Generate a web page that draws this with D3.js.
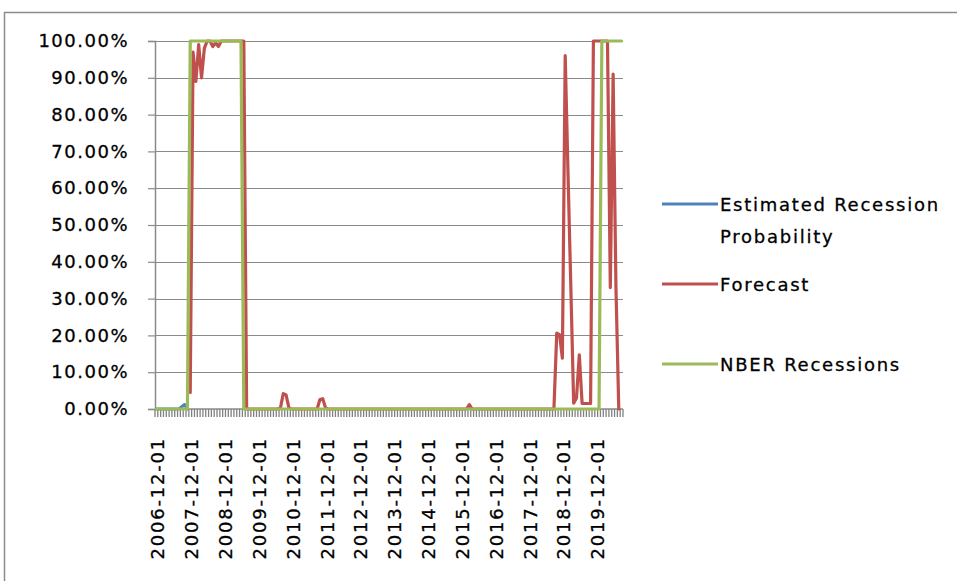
<!DOCTYPE html>
<html>
<head>
<meta charset="utf-8">
<script src="https://cdn.jsdelivr.net/npm/d3@7/dist/d3.min.js"></script>
<style>
  html, body { margin: 0; padding: 0; background: #fff; }
  svg { display: block; }
  text { font-family: "DejaVu Sans", Verdana, sans-serif; fill: #000; stroke: #000; stroke-width: 0.3px; }
</style>
</head>
<body>
<svg id="chart" width="957" height="581"></svg>
<script>
// Monthly categories, Dec 2006 through Sep 2020
const categories = d3.timeMonth.range(new Date(2006, 11, 1), new Date(2020, 9, 1))
  .map(d3.timeFormat("%Y-%m-%d"));

// Percent values, one row per 12 months starting at each December
const estimated = [
  0, 0, 0, 0, 0, 0, 0, 0, 0, 0.6, 1.2, 0
];

const forecast = [
  null, null, null, null, null, null, null, null, null, null, null, null,
  4.5, 97, 89, 99, 90, 98, 100, 100, 98.5, 99.5, 98.5, 100,
  100, 100, 100, 100, 100, 100, 100, 100, 0, 0, 0, 0,
  0, 0, 0, 0, 0, 0, 0, 0, 0.3, 4.2, 3.8, 0.3,
  0, 0, 0, 0, 0, 0, 0, 0, 0, 0, 2.6, 2.8,
  0.3, 0, 0, 0, 0, 0, 0, 0, 0, 0, 0, 0,
  0, 0, 0, 0, 0, 0, 0, 0, 0, 0, 0, 0,
  0, 0, 0, 0, 0, 0, 0, 0, 0, 0, 0, 0,
  0, 0, 0, 0, 0, 0, 0, 0, 0, 0, 0, 0,
  0, 0, 0, 1.2, 0, 0, 0, 0, 0, 0, 0, 0,
  0, 0, 0, 0, 0, 0, 0, 0, 0, 0, 0, 0,
  0, 0, 0, 0, 0, 0, 0, 0, 0, 0, 20.6, 20.2,
  13.8, 96, 64, 33, 1.6, 3, 14.7, 1.5, 1.5, 1.5, 1.5, 100,
  100, 100, 100, 100, 100, 33, 91, 33, 0, null
];

const nber = [
  0, 0, 0, 0, 0, 0, 0, 0, 0, 0, 0, 0,
  100, 100, 100, 100, 100, 100, 100, 100, 100, 100, 100, 100,
  100, 100, 100, 100, 100, 100, 100, 0, 0, 0, 0, 0,
  0, 0, 0, 0, 0, 0, 0, 0, 0, 0, 0, 0,
  0, 0, 0, 0, 0, 0, 0, 0, 0, 0, 0, 0,
  0, 0, 0, 0, 0, 0, 0, 0, 0, 0, 0, 0,
  0, 0, 0, 0, 0, 0, 0, 0, 0, 0, 0, 0,
  0, 0, 0, 0, 0, 0, 0, 0, 0, 0, 0, 0,
  0, 0, 0, 0, 0, 0, 0, 0, 0, 0, 0, 0,
  0, 0, 0, 0, 0, 0, 0, 0, 0, 0, 0, 0,
  0, 0, 0, 0, 0, 0, 0, 0, 0, 0, 0, 0,
  0, 0, 0, 0, 0, 0, 0, 0, 0, 0, 0, 0,
  0, 0, 0, 0, 0, 0, 0, 0, 0, 0, 0, 0,
  0, 0, 100, 100, 100, 100, 100, 100, 100, 100
];

const yTicks = [0, 10, 20, 30, 40, 50, 60, 70, 80, 90, 100];
const seriesNames = ["Estimated Recession Probability", "Forecast", "NBER Recessions"];
const seriesColors = ["#4F81BD", "#C0504D", "#9BBB59"];

const svg = d3.select("#chart");
const plot = { left: 155, right: 623, top: 41, bottom: 409 };

const x = d3.scaleBand().domain(categories).range([plot.left, plot.right]).padding(0);
const y = d3.scaleLinear().domain([0, 100]).range([plot.bottom, plot.top]);
const cx = d => x(d) + x.bandwidth() / 2;

// outer chart frame
svg.append("rect")
  .attr("x", 4.5).attr("y", 12.5).attr("width", 1200).attr("height", 1200)
  .attr("fill", "none").attr("stroke", "#8c8c8c").attr("stroke-width", 1.5);

// horizontal gridlines
svg.append("g").selectAll("line").data(yTicks.filter(t => t > 0)).join("line")
  .attr("x1", plot.left).attr("x2", plot.right)
  .attr("y1", d => Math.round(y(d)) + 0.5).attr("y2", d => Math.round(y(d)) + 0.5)
  .attr("stroke", "#8a8a8a").attr("stroke-width", 1.2);

// y axis
const yAxis = d3.axisLeft(y).tickValues(yTicks).tickSize(7).tickPadding(19)
  .tickFormat(d => d3.format(".2f")(d) + "%");
const gy = svg.append("g").attr("transform", `translate(${plot.left},0)`).call(yAxis);
gy.select(".domain").attr("stroke", "#8a8a8a").attr("stroke-width", 1.5);
gy.selectAll(".tick line").attr("stroke", "#8a8a8a").attr("stroke-width", 1.2);
gy.selectAll(".tick text")
  .style("font-size", "18px").style("letter-spacing", "1.5px")
  .attr("fill", "#000").attr("font-family", null);

// x axis: tick at every category boundary, label every 12 months
const boundaries = categories.map(c => x(c)).concat([plot.right]);
svg.append("line")
  .attr("x1", plot.left).attr("x2", plot.right)
  .attr("y1", plot.bottom).attr("y2", plot.bottom)
  .attr("stroke", "#8a8a8a").attr("stroke-width", 1.5);
svg.append("g").selectAll("line").data(boundaries).join("line")
  .attr("x1", d => d).attr("x2", d => d)
  .attr("y1", plot.bottom).attr("y2", plot.bottom + 8)
  .attr("stroke", "#808080").attr("stroke-width", 1.3);

const xLabels = categories.filter((c, i) => i % 12 === 0);
svg.append("g").selectAll("text").data(xLabels).join("text")
  .attr("transform", d => `translate(${cx(d) + 1.5},437) rotate(-90)`)
  .attr("text-anchor", "end").attr("dy", "0.36em")
  .style("font-size", "18px").style("letter-spacing", "1.8px")
  .text(d => d);

// series lines
const line = d3.line()
  .defined(d => d.v !== null && d.v !== undefined)
  .x(d => cx(d.c)).y(d => y(d.v));

const seriesValues = [estimated, forecast, nber];
seriesValues.forEach((vals, k) => {
  const pts = categories.map((c, i) => ({ c, v: i < vals.length ? vals[i] : null }));
  svg.append("path").datum(pts)
    .attr("d", line)
    .attr("fill", "none")
    .attr("stroke", seriesColors[k])
    .attr("stroke-width", 3.2)
    .attr("stroke-linejoin", "round")
    .attr("stroke-linecap", "round");
});

// legend
const legendRows = [
  { lines: ["Estimated Recession", "Probability"], y: 205 },
  { lines: ["Forecast"], y: 285 },
  { lines: ["NBER Recessions"], y: 365 }
];
const lg = svg.append("g");
legendRows.forEach((r, k) => {
  lg.append("line")
    .attr("x1", 662).attr("x2", 718).attr("y1", r.y - 1).attr("y2", r.y - 1)
    .attr("stroke", seriesColors[k]).attr("stroke-width", 3);
  r.lines.forEach((t, j) => {
    lg.append("text")
      .attr("x", 720).attr("y", r.y + j * 32).attr("dy", "0.36em")
      .style("font-size", "18px").style("letter-spacing", "1.75px")
      .text(t);
  });
});
</script>
</body>
</html>
